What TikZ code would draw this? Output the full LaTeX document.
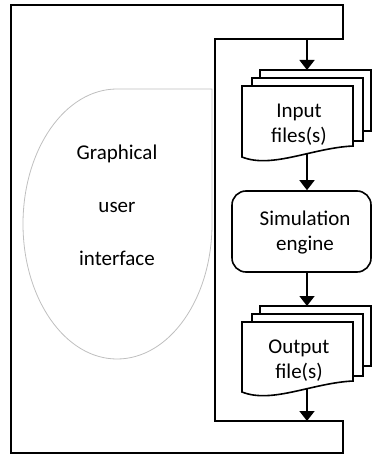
\documentclass[tikz,border=0pt]{standalone}
\usepackage{fontspec}
\setmainfont{Carlito}
\usetikzlibrary{arrows.meta}
\begin{document}
\begin{tikzpicture}[x=1pt,y=-1pt,
  frame/.style={line width=1.6pt,draw=black},
  arr/.style={line width=1.6pt,-{Triangle[width=15pt,length=10pt]}},
  docsheet/.style={draw=black,fill=white,line width=1.6pt},
  gui/.style={draw=black!25,line width=0.8pt},
  lbl/.style={font=\fontsize{21}{25.5}\selectfont,align=center,inner sep=0pt},
  guilbl/.style={font=\fontsize{21}{25}\selectfont,inner sep=0pt,anchor=base}]
\useasboundingbox (0,0) rectangle (372,454);
% outer loop
\draw[frame] (11,5) -- (343,5) -- (343,39) -- (215,39) -- (215,421) -- (343,421) -- (343,453) -- (11,453) -- cycle;
\coordinate (topline) at (307,39);
\coordinate (botline) at (307,421);
% GUI shape
\draw[gui] (212,89) -- (117,89)
  arc[start angle=-90,end angle=-270,x radius=94,y radius=135]
  arc[start angle=-270,end angle=-360,x radius=95,y radius=135] -- cycle;
\node[guilbl] (g1) at (117,160) {Graphical};
\node[guilbl] (g2) at (117,212) {user};
\node[guilbl] (g3) at (117,265) {interface};
% input documents
\begin{scope}[shift={(242,86)}]
  \draw[docsheet] (18,-16) rectangle (129,45);
  \draw[docsheet] (10,-8) rectangle (121,55);
  \draw[docsheet] (0,0) -- (111,0) -- (111,60) .. controls (70,62) and (30,83) .. (0,71) -- cycle;
  \coordinate (inTop) at (65,-16);
  \coordinate (inBot) at (65,68);
\end{scope}
\node[lbl,anchor=base] (inlbl) at (299,143) {Input\\files(s)};
% simulation engine
\node[draw,line width=1.6pt,rounded corners=14pt,minimum width=139pt,minimum height=81pt,inner sep=0pt] (sim) at (301.5,231.5) {};
\node[lbl,anchor=base] (simlbl) at (305,250.5) {Simulation\\engine};
% output documents
\begin{scope}[shift={(242,322)}]
  \draw[docsheet] (18,-16) rectangle (129,44);
  \draw[docsheet] (10,-8) rectangle (121,54);
  \draw[docsheet] (0,0) -- (111,0) -- (111,59) .. controls (70,61) and (30,82) .. (0,70) -- cycle;
  \coordinate (outTop) at (65,-16);
  \coordinate (outBot) at (65,67);
\end{scope}
\node[lbl,anchor=base] (outlbl) at (299,378.5) {Output\\file(s)};
% connectors
\draw[arr] (topline) -- (inTop);
\draw[arr] (inBot) -- (inBot |- sim.north);
\draw[arr] (outTop |- sim.south) -- (outTop);
\draw[arr] (outBot) -- (botline);
\end{tikzpicture}
\end{document}
